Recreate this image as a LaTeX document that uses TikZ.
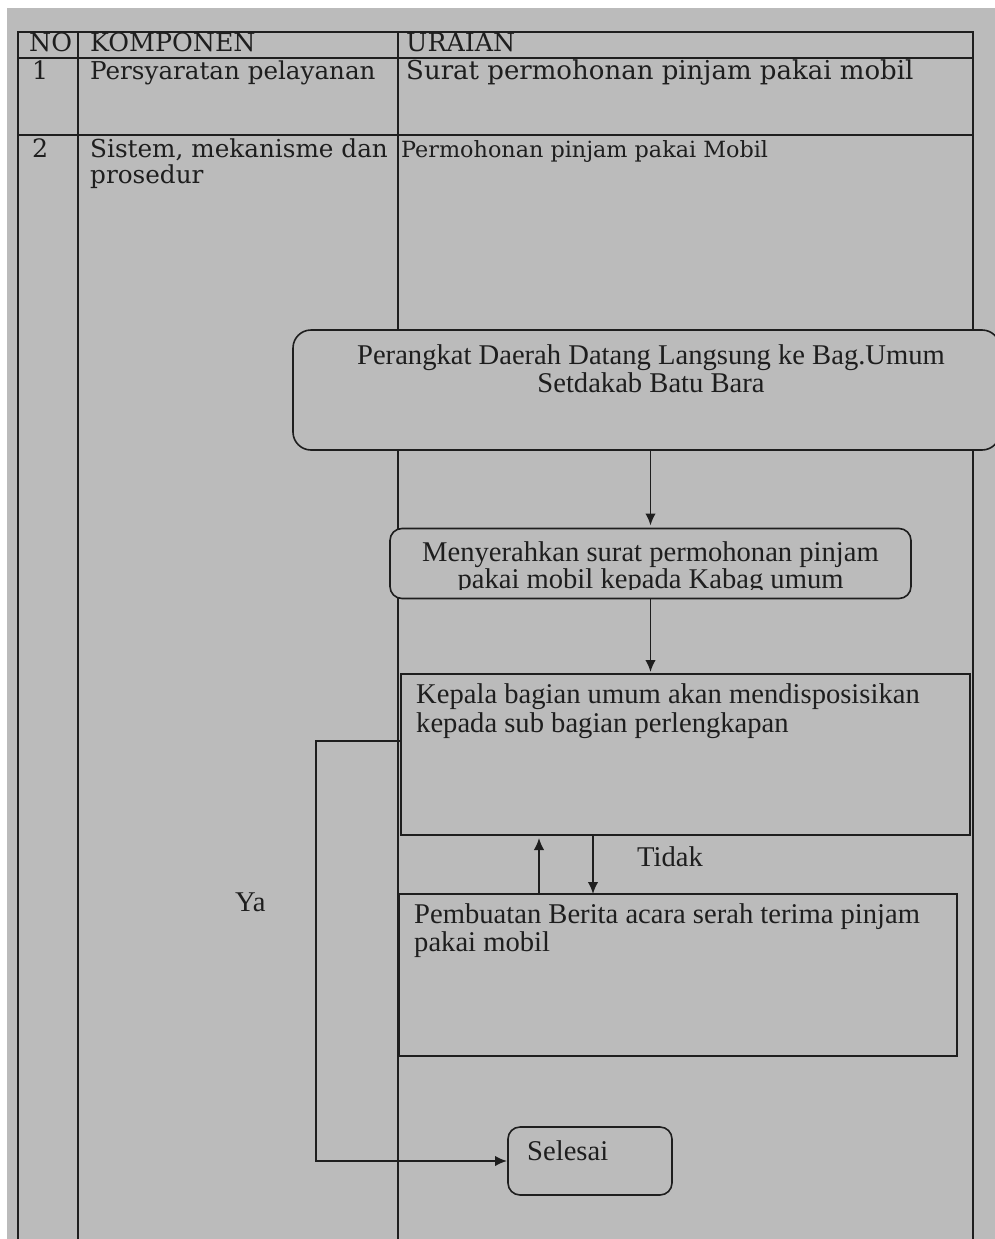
\documentclass[tikz,border=0pt]{standalone}
\usepackage{fontspec}
\setmainfont{DejaVu Serif}
\newfontfamily\flowfont{Liberation Serif}
\usetikzlibrary{arrows.meta}
\definecolor{bg}{HTML}{BBBBBB}
\definecolor{ink}{HTML}{1E1E1E}
\tikzset{
  tabline/.style={draw=ink, line width=1.5pt},
  tabtext/.style={anchor=base west, inner sep=0pt, text=ink, font=\fontsize{#1}{30}\selectfont},
  tabtext/.default=25.3,
  flowtext/.style={inner sep=0pt, text=ink, font=\flowfont\fontsize{28.6}{28}\selectfont},
  rbox/.style={draw=ink, fill=bg, line width=1.6pt, rounded corners=#1, outer sep=0pt, inner sep=0pt},
  sbox/.style={draw=ink, fill=bg, line width=1.6pt, outer sep=0pt, inner sep=0pt},
  arr/.style={draw=ink, line width=1.8pt, -{Latex[length=12pt,width=10.5pt]}},
}
\begin{document}
\begin{tikzpicture}[x=1pt,y=-1pt]
\useasboundingbox (0,0) rectangle (995,1239);
\fill[white] (0,0) rectangle (995,1239);
\fill[bg] (7,8) rectangle (995,1239);
% table
\draw[tabline] (18,1239) -- (18,32) -- (973,32) -- (973,1239);
\draw[tabline] (18,58) -- (973,58);
\draw[tabline] (18,135) -- (973,135);
\draw[tabline] (78,32) -- (78,1239);
\draw[tabline] (398,32) -- (398,1239);
\node[tabtext] (hno) at (29,52) {NO};
\node[tabtext] (hkomp) at (90,52) {KOMPONEN};
\node[tabtext] (hur) at (406,52) {URAIAN};
\node[tabtext] (n1) at (32,80) {1};
\node[tabtext=24.6] (k1) at (90,80) {Persyaratan pelayanan};
\node[tabtext=26] (u1) at (406,80) {Surat permohonan pinjam pakai mobil};
\node[tabtext] (n2) at (32,157) {2};
\node[tabtext=24.7] (k2a) at (90,157) {Sistem, mekanisme dan};
\node[tabtext=24.7] (k2b) at (90,183) {prosedur};
\node[tabtext=22.3] (u2) at (401,157) {Permohonan pinjam pakai Mobil};
% flow boxes
\node[rbox=18pt, minimum width=707pt, minimum height=120pt] (b1) at (646.5,390) {};
\node[flowtext, anchor=base] (t1a) at (651,364) {Perangkat Daerah Datang Langsung ke Bag.Umum};
\node[flowtext, anchor=base] (t1b) at (651,392) {Setdakab Batu Bara};
\node[rbox=12pt, minimum width=521pt, minimum height=70pt] (b2) at (650.5,563.5) {};
\begin{scope}
\clip (392,530) rectangle (909,589);
\node[flowtext, anchor=base] (t2a) at (650.5,561) {Menyerahkan surat permohonan pinjam};
\node[flowtext, anchor=base] (t2b) at (650.5,588) {pakai mobil kepada Kabag umum};
\end{scope}
\node[sbox, minimum width=569pt, minimum height=161pt] (b3) at (685.5,754.5) {};
\node[flowtext, anchor=base west] (t3a) at (416,703) {Kepala bagian umum akan mendisposisikan};
\node[flowtext, anchor=base west] (t3b) at (416,732) {kepada sub bagian perlengkapan};
\node[sbox, minimum width=558pt, minimum height=162pt] (b4) at (678,975) {};
\node[flowtext, anchor=base west] (t4a) at (414,923) {Pembuatan Berita acara serah terima pinjam};
\node[flowtext, anchor=base west] (t4b) at (414,951) {pakai mobil};
\node[rbox=12pt, minimum width=164pt, minimum height=68pt] (sel) at (590,1161) {};
\node[flowtext, anchor=base west] (tsel) at (527,1160) {Selesai};
\node[flowtext, anchor=base west] (tidak) at (637,866) {Tidak};
\node[flowtext, anchor=base west] (ya) at (235,911) {Ya};
% connectors
\draw[arr] (b1.south -| b2.north) -- ([yshift=3pt]b2.north);
\draw[arr] (b2.south) -- ([yshift=2pt]b2.south |- b3.north);
\draw[arr] (b4.north -| 539,0) -- ([yshift=-3pt]b3.south -| 539,0);
\draw[arr] (b3.south -| 593,0) -- (b4.north -| 593,0);
\draw[arr] (b3.west |- 0,741) -- (316,741) |- ([xshift=-1pt]sel.west);
\end{tikzpicture}
\end{document}
